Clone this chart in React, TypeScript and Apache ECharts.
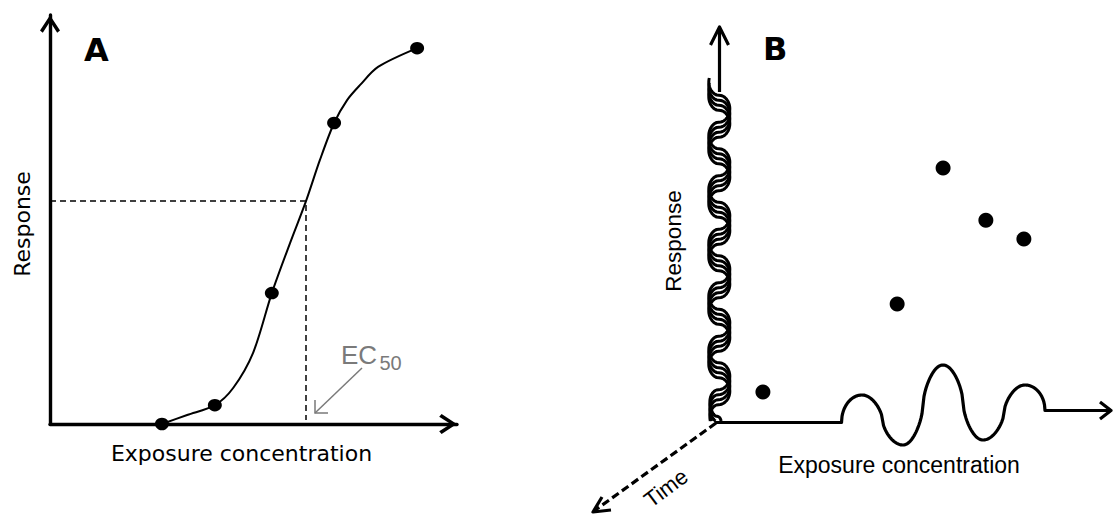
import React, { useEffect, useRef } from "react";
import * as echarts from "echarts";

// ---------- Panel A: concentration-response data ----------
const concA = [2.75, 4.05, 5.45, 6.98, 9.02];
const respA = [0, 4.6, 32.0, 73.6, 91.9];
// fitted curve
const curveConc = [2.75, 3.37, 4.05, 4.5, 4.99, 5.45, 5.9, 6.29, 6.63, 6.98, 7.3, 7.62, 8.06, 9.02];
const curveResp = [0, 2.2, 4.6, 8.8, 17.4, 32.0, 44.3, 54.5, 64.5, 73.6, 79.2, 82.9, 87.3, 91.9];
const ec50Conc = 6.29;
const ec50Resp = 54.5;

// ---------- Panel B: scattered observations ----------
const concB = [1.21, 4.6, 5.76, 6.84, 7.8];
const respB = [7.6, 29.9, 64.3, 51.1, 46.3];

// Labels
const labelA = "A";
const labelB = "B";
const xTitle = "Exposure concentration";
const yTitle = "Response";
const timeTitle = "Time";

const SANS_A = "'DejaVu Sans', sans-serif";
const SANS_B = "'Liberation Sans', Arial, sans-serif";
const CHEVRON = "path://M10,0L20,15.2L17.2,17.6L10,6.2L2.8,17.6L0,15.2Z";

function ribbonLines(): number[][][] {
  const lines: number[][][] = [];
  const c = 719.3;
  const P = 53.5;
  const y0 = 82;
  const copies = 4;
  const shift = 5;
  for (let k = 0; k < copies; k++) {
    const pts: number[][] = [];
    for (let y = 78; y <= 421; y += 0.5) {
      const yy = y + k * shift;
      if (yy > 421) break;
      const phi = (2 * Math.PI * (y - y0)) / P;
      const cs = Math.cos(phi);
      const s = Math.sign(cs) * Math.pow(Math.abs(cs), 0.45);
      let A = 10.5;
      let cc = c;
      if (y > 385) {
        const t = Math.min(1, (y - 385) / 36);
        A = 10.5 * (1 - 0.45 * t);
        cc = c - 2.5 * t;
      }
      pts.push([cc - A * s, yy]);
    }
    lines.push(pts);
  }
  return lines;
}

function hWave(): number[][] {
  const pts: number[][] = [[715, 422.5]];
  const ext = [
    [841.5, 422.5],
    [862, 395],
    [903, 445],
    [943, 365],
    [983, 440],
    [1025, 385],
    [1045, 410.5],
  ];
  pts.push(ext[0]);
  for (let i = 0; i < ext.length - 1; i++) {
    const [x0, y0] = ext[i];
    const [x1, y1] = ext[i + 1];
    const n = 40;
    for (let j = 1; j <= n; j++) {
      const t = j / n;
      let h: number;
      if (i === 0) h = Math.sqrt(1 - (1 - t) * (1 - t));
      else if (i === ext.length - 2) h = 1 - Math.sqrt(Math.max(0, 1 - t * t));
      else {
        const cs = Math.cos(Math.PI * t);
        h = 0.5 - 0.5 * Math.sign(cs) * Math.pow(Math.abs(cs), 0.6);
      }
      pts.push([x0 + (x1 - x0) * t, y0 + (y1 - y0) * h]);
    }
  }
  pts.push([1111, 410.5]);
  return pts;
}

function buildOption(): any {
  const stroke = { stroke: "#000", lineWidth: 3.2, fill: null, lineJoin: "round" };
  const graphic: any[] = [
    // Panel A texts
    { type: "text", x: 84, y: 50, style: { text: labelA, fontSize: 32, fontWeight: "bold", fontFamily: SANS_A, fill: "#000", align: "left", verticalAlign: "middle" } },
    { type: "text", x: 241.5, y: 453, style: { text: xTitle, fontSize: 22, fontFamily: SANS_A, fill: "#000", align: "center", verticalAlign: "middle" } },
    { type: "text", x: 22, y: 224, rotation: Math.PI / 2, style: { text: yTitle, fontSize: 22, fontFamily: SANS_A, fill: "#000", align: "center", verticalAlign: "middle" } },
    // EC50 annotation
    { type: "text", x: 341, y: 354.5, style: { text: "EC", fontSize: 26, fontFamily: SANS_B, fill: "#7a7a7a", align: "left", verticalAlign: "middle" } },
    { type: "text", x: 379.5, y: 362.5, style: { text: "50", fontSize: 20, fontFamily: SANS_B, fill: "#7a7a7a", align: "left", verticalAlign: "middle" } },
    { type: "polyline", shape: { points: [[362, 368], [315, 413]] }, style: { stroke: "#7a7a7a", lineWidth: 1.5, fill: null } },
    { type: "polyline", shape: { points: [[315, 400], [315, 413], [328, 413]] }, style: { stroke: "#7a7a7a", lineWidth: 1.5, fill: null } },
    // Panel B texts
    { type: "text", x: 763, y: 49, style: { text: labelB, fontSize: 32, fontWeight: "bold", fontFamily: SANS_A, fill: "#000", align: "left", verticalAlign: "middle" } },
    { type: "text", x: 899, y: 464.5, style: { text: xTitle, fontSize: 23, fontFamily: SANS_B, fill: "#000", align: "center", verticalAlign: "middle" } },
    { type: "text", x: 673, y: 241, rotation: Math.PI / 2, style: { text: yTitle, fontSize: 22.5, fontFamily: SANS_B, fill: "#000", align: "center", verticalAlign: "middle" } },
    { type: "text", x: 666, y: 488, rotation: (37 * Math.PI) / 180, style: { text: timeTitle, fontSize: 22, fontFamily: SANS_B, fill: "#000", align: "center", verticalAlign: "middle" } },
    // Panel B axes
    { type: "polyline", shape: { points: [[719.5, 28], [719.5, 92]] }, style: stroke },
    { type: "polyline", shape: { points: [[710.5, 45], [719.5, 27], [728.5, 45]] }, style: stroke },
    { type: "polyline", shape: { points: hWave() }, style: stroke },
    { type: "polyline", shape: { points: [[1100, 402], [1111, 410.5], [1100, 419]] }, style: stroke },
    { type: "polyline", shape: { points: [[716, 423], [594, 511]] }, style: { stroke: "#000", lineWidth: 3.2, fill: null, lineDash: [8, 4] } },
    { type: "polyline", shape: { points: [[602, 497], [593, 512], [611, 510]] }, style: stroke },
  ];
  ribbonLines().forEach((pts) => {
    graphic.push({ type: "polyline", shape: { points: pts }, style: { stroke: "#000", lineWidth: 3, fill: null, lineJoin: "round" } });
  });

  const axisLineA = {
    show: true,
    onZero: false,
    lineStyle: { color: "#000", width: 3.4 },
    symbol: ["none", CHEVRON],
    symbolSize: [20, 18],
    symbolOffset: [0, -9],
  };

  return {
    animation: false,
    backgroundColor: "#fff",
    grid: [
      { left: 50, top: 15, width: 407, height: 409, outerBoundsMode: "none" },
      { left: 715, top: 27, width: 396, height: 395, outerBoundsMode: "none" },
    ],
    xAxis: [
      { gridIndex: 0, type: "value", min: 0, max: 10, axisLine: axisLineA, axisTick: { show: false }, axisLabel: { show: false }, splitLine: { show: false } },
      { gridIndex: 1, type: "value", min: 0, max: 10, show: false },
    ],
    yAxis: [
      { gridIndex: 0, type: "value", min: 0, max: 100, axisLine: axisLineA, axisTick: { show: false }, axisLabel: { show: false }, splitLine: { show: false } },
      { gridIndex: 1, type: "value", min: 0, max: 100, show: false },
    ],
    series: [
      {
        type: "line",
        xAxisIndex: 0,
        yAxisIndex: 0,
        data: curveConc.map((c, i) => [c, curveResp[i]]),
        smooth: 0.3,
        showSymbol: false,
        silent: true,
        lineStyle: { color: "#000", width: 2 },
        z: 2,
      },
      {
        type: "line",
        xAxisIndex: 0,
        yAxisIndex: 0,
        data: [
          [0, ec50Resp],
          [ec50Conc, ec50Resp],
          [ec50Conc, 1],
        ],
        showSymbol: false,
        silent: true,
        lineStyle: { color: "#000", width: 1.5, type: [6, 4] },
        z: 1,
      },
      {
        type: "scatter",
        xAxisIndex: 0,
        yAxisIndex: 0,
        data: concA.map((c, i) => [c, respA[i]]),
        symbolSize: [14, 12.5],
        itemStyle: { color: "#000", opacity: 1 },
        z: 3,
      },
      {
        type: "scatter",
        xAxisIndex: 1,
        yAxisIndex: 1,
        data: concB.map((c, i) => [c, respB[i]]),
        symbolSize: 15,
        itemStyle: { color: "#000", opacity: 1 },
        z: 3,
      },
    ],
    graphic,
  };
}

export default function App() {
  const ref = useRef<HTMLDivElement>(null);
  useEffect(() => {
    document.body.style.margin = "0";
    const chart = echarts.init(ref.current as HTMLDivElement, null, { renderer: "svg" });
    chart.setOption(buildOption());
    return () => chart.dispose();
  }, []);
  return <div ref={ref} style={{ width: 1113, height: 514 }} />;
}
